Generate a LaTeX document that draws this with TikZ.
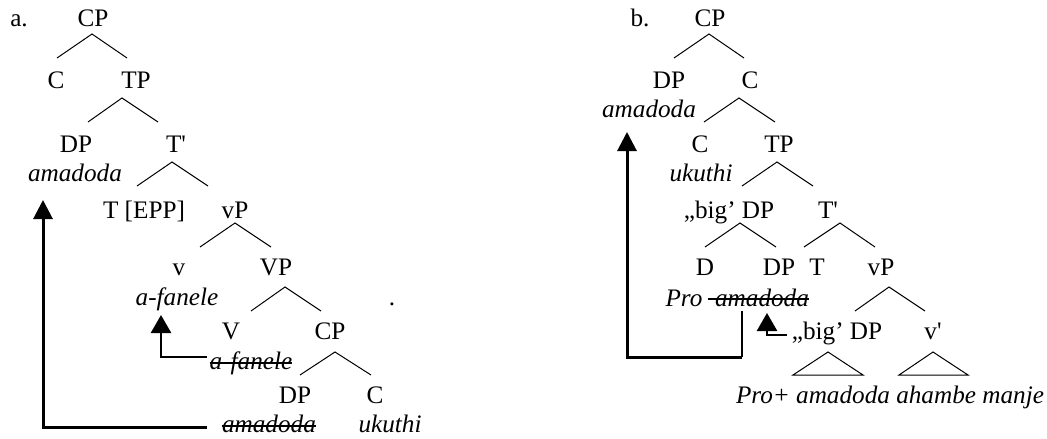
\documentclass[tikz,border=0pt]{standalone}
\usepackage{fontspec}
\newfontfamily\tnr{Liberation Serif}
\usetikzlibrary{arrows.meta}
\begin{document}
\begin{tikzpicture}[x=1pt,y=-1pt,
  lab/.style={anchor=base,inner sep=0pt,font=\tnr\fontsize{25.2}{28}\selectfont},
  wd/.style={anchor=base,inner sep=0pt,font=\tnr\fontsize{25.2}{28}\selectfont\itshape},
  br/.style={line width=1pt},
  mv/.style={line width=3pt,line join=miter,-{Triangle[length=19pt,width=19pt]}},
  mvs/.style={line width=2.6pt,line join=miter,-{Triangle[length=18pt,width=20pt]}},
  strike/.style={line width=1.7pt}]
\useasboundingbox (0,0) rectangle (1047,439);
% ---------- tree a ----------
\node[lab] (a) at (19,27) {a.};
\node[lab] (acp) at (93,27) {CP};
\node[lab] (ac) at (56,88) {C};
\node[lab] (atp) at (136,88) {TP};
\node[lab] (adp) at (76,152) {DP};
\node[wd] (aam) at (75,181) {amadoda};
\node[lab] (atb) at (176,152) {T'};
\node[lab] (at) at (144,218) {T [EPP]};
\node[lab] (avp) at (235,218) {vP};
\node[lab] (av) at (179,275) {v};
\node[wd] (aaf) at (177,305) {a-fanele};
\node[lab] (avvp) at (276,275) {VP};
\node[lab] (avv) at (231,339) {V};
\node[lab] (acp2) at (330,339) {CP};
\node[wd] (aaf2) at (251,369) {a-fanele};
\node[lab] (adp2) at (295,403) {DP};
\node[lab] (ac2) at (375,403) {C};
\node[wd] (aam2) at (269,432) {amadoda};
\node[wd] (auk) at (390,432) {ukuthi};
\node[lab] (dot) at (392,305) {.};
\draw[br] (57,58) -- (92,34) -- (127,58);
\draw[br] (88,122) -- (122,98) -- (158,122);
\draw[br] (137,186) -- (172,162) -- (208,186);
\draw[br] (200,247) -- (235,223) -- (271,247);
\draw[br] (251,311) -- (285,287) -- (321,311);
\draw[br] (300,375) -- (335,352) -- (371,375);
\draw[strike] ([yshift=6pt]aaf2.base west) -- ([yshift=6pt]aaf2.base east);
\draw[strike] ([yshift=6pt]aam2.base west) -- ([yshift=6pt]aam2.base east);
\coordinate (a1) at (207,427);
\coordinate (a2) at (43,427);
\coordinate (a3) at (43,200);
\draw[mv] (a1) -- (a2) -- (a3);
\coordinate (s1) at (207,357);
\coordinate (s2) at (161,357);
\coordinate (s3) at (161,315);
\draw[mvs] (s1) -- (s2) -- (s3);
% ---------- tree b ----------
\node[lab] (b) at (640,27) {b.};
\node[lab] (bcp) at (710,27) {CP};
\node[lab] (bdp) at (669,88) {DP};
\node[lab] (bc) at (750,88) {C};
\node[wd] (bam) at (649,117) {amadoda};
\node[lab] (bc2) at (700,152) {C};
\node[lab] (btp) at (779,152) {TP};
\node[wd] (buk) at (701,181) {ukuthi};
\node[lab] (bbig) at (729,218) {„big’ DP};
\node[lab] (btb) at (828,218) {T'};
\node[lab] (bd) at (705,275) {D};
\node[lab] (bdp2) at (779,275) {DP};
\node[lab] (bt) at (817,275) {T};
\node[lab] (bvp) at (881,275) {vP};
\node[wd] (bpro) at (684,306) {Pro};
\node[wd] (bam2) at (762,306) {amadoda};
\node[lab] (bbig2) at (837,339) {„big’ DP};
\node[lab] (bvb) at (933,339) {v'};
\node[wd] (bstr) at (890,403) {Pro+ amadoda ahambe manje};
\draw[br] (674,58) -- (709,34) -- (744,58);
\draw[br] (704,122) -- (739,98) -- (775,122);
\draw[br] (742,186) -- (777,162) -- (813,186);
\draw[br] (705,247) -- (740,223) -- (776,247);
\draw[br] (804,247) -- (840,223) -- (875,247);
\draw[br] (855,311) -- (889,287) -- (925,311);
\draw[br] (793,375) -- (828,352) -- (863,375) -- cycle;
\draw[br] (899,375) -- (933,352) -- (968,375) -- cycle;
\draw[line width=2.6pt] ([xshift=-7pt,yshift=7pt]bam2.base west) -- ([yshift=7pt]bam2.base east);
\coordinate (b0) at (742,311);
\coordinate (b1) at (742,357);
\coordinate (b2) at (627,357);
\coordinate (b3) at (627,132);
\draw[line width=1.2pt] (b0) -- (b1);
\draw[mv] (b1) -- (b2) -- (b3);
\coordinate (t1) at (787,335);
\coordinate (t2) at (767,335);
\coordinate (t3) at (767,313);
\draw[mvs] (t1) -- (t2) -- (t3);
\end{tikzpicture}
\end{document}
